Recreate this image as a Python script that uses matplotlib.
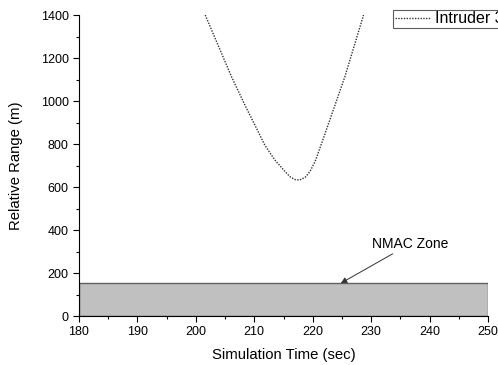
import matplotlib
matplotlib.use('Agg')
import matplotlib.pyplot as plt
from matplotlib.ticker import MultipleLocator
from matplotlib.patches import Rectangle

plt.rcParams['font.family'] = ['Liberation Sans', 'DejaVu Sans']

# Intruder 3 relative range
time_s = [201.6, 206.1, 208.5, 210.1, 211.8, 213.5, 215.3, 216.1, 217.0,
          217.8, 218.7, 219.5, 220.4, 222.0, 225.5, 228.7]
range_m = [1400, 1113, 975, 888, 795, 726, 671, 648, 634,
           633, 645, 671, 718, 840, 1113, 1400]

nmac_height = 152.4  # 500 ft
x_min, x_max = 180, 250
y_min, y_max = 0, 1400

fig = plt.figure(figsize=(4.98, 3.65), dpi=100)
ax = fig.add_axes([0.1586, 0.1342, 0.8214, 0.8247])

ax.add_patch(Rectangle((x_min, 0), x_max - x_min, nmac_height,
                       facecolor='#c0c0c0', edgecolor='#606060', lw=1.0, zorder=1))
ax.plot(time_s, range_m, ls=(0, (1, 1)), color='#333333', lw=1.0,
        label='Intruder 3', zorder=2)

ax.annotate('NMAC Zone', xy=(224.8, nmac_height), xytext=(230.1, 335),
            fontsize=10, ha='left', va='center',
            arrowprops=dict(arrowstyle='-|>', color='#333333', lw=0.7,
                            mutation_scale=9, shrinkA=0, shrinkB=0))

ax.set_xlim(x_min, x_max)
ax.set_ylim(y_min, y_max)
ax.xaxis.set_major_locator(MultipleLocator(10))
ax.xaxis.set_minor_locator(MultipleLocator(5))
ax.yaxis.set_major_locator(MultipleLocator(200))
ax.yaxis.set_minor_locator(MultipleLocator(100))
ax.tick_params(which='both', direction='out', labelsize=9, width=0.8)
ax.tick_params(which='major', length=4)
ax.tick_params(which='minor', length=2.5)
ax.spines['top'].set_visible(False)
ax.spines['right'].set_visible(False)

ax.set_xlabel('Simulation Time (sec)', fontsize=10.7, labelpad=7)
ax.set_ylabel('Relative Range (m)', fontsize=10.7, labelpad=13)

# legend runs off the right edge, as in the reference
leg = ax.legend(loc='upper left', bbox_to_anchor=(0.768, 1.017), fontsize=11.5,
                frameon=True, fancybox=False, handlelength=2.2,
                borderpad=0.1, handletextpad=0.3, borderaxespad=0)
leg.get_frame().set_edgecolor('#333333')
leg.get_frame().set_linewidth(0.8)

fig.savefig('out.png', dpi=100)
